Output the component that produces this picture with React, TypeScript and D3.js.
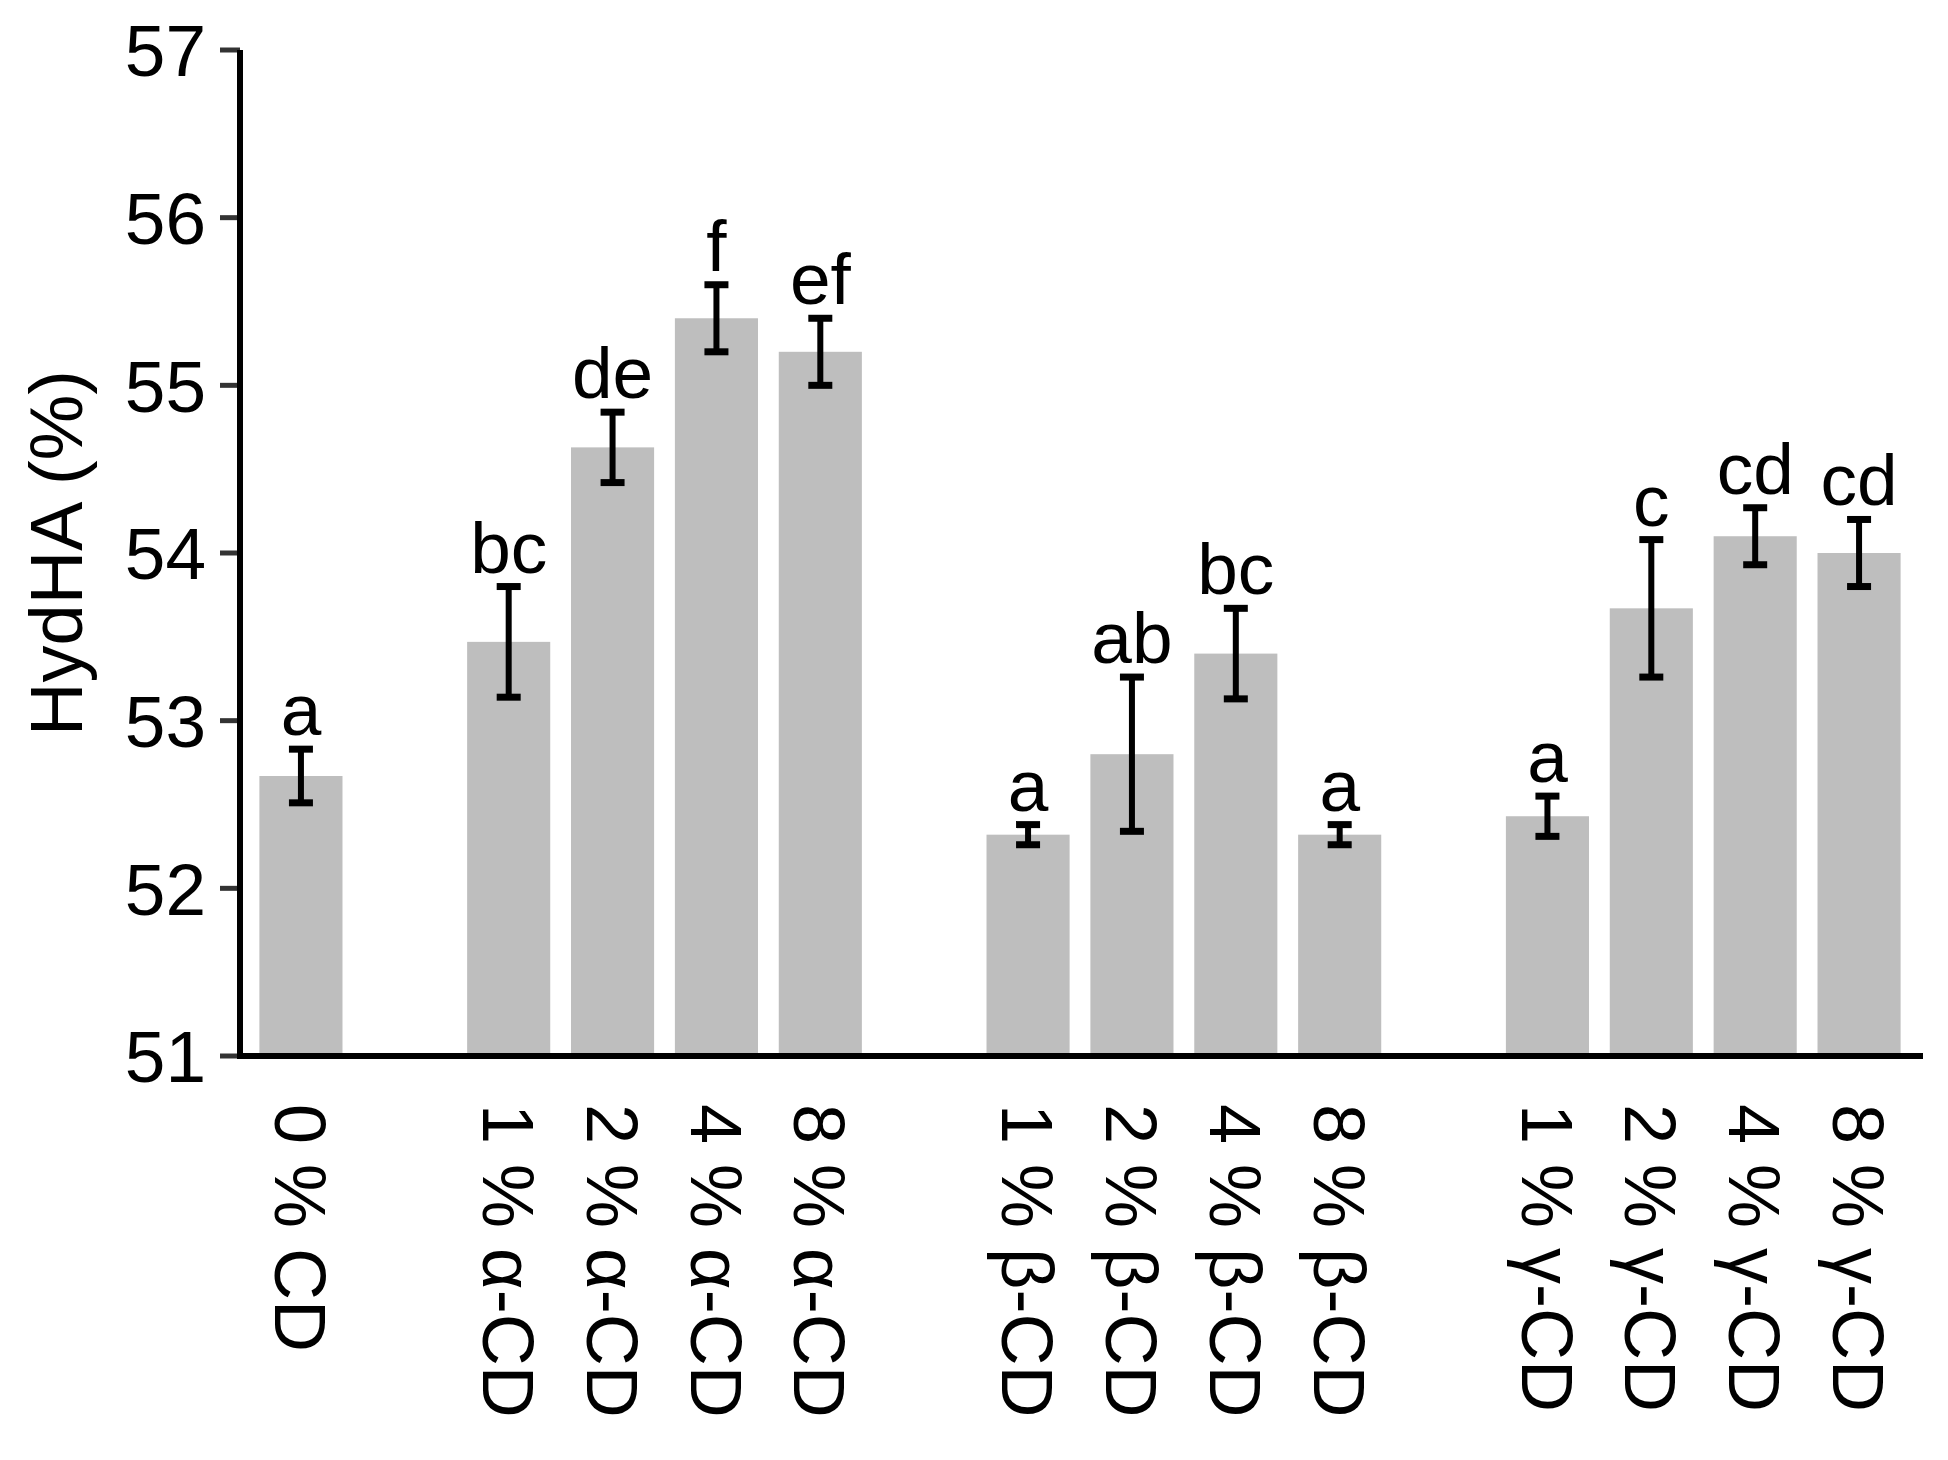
import React, { useRef, useEffect } from 'react';
import * as d3 from 'd3';

// bar order, "g*" keys are the empty gaps between groups
const slots = ['0CD', 'g1', '1a', '2a', '4a', '8a', 'g2', '1b', '2b', '4b', '8b', 'g3', '1g', '2g', '4g', '8g'];
const categories = ['0CD', '1a', '2a', '4a', '8a', '1b', '2b', '4b', '8b', '1g', '2g', '4g', '8g'];
const labels = ['0 % CD', '1 % α-CD', '2 % α-CD', '4 % α-CD', '8 % α-CD', '1 % β-CD', '2 % β-CD', '4 % β-CD', '8 % β-CD', '1 % γ-CD', '2 % γ-CD', '4 % γ-CD', '8 % γ-CD'];
const means = [52.67, 53.47, 54.63, 55.40, 55.20, 52.32, 52.80, 53.40, 52.32, 52.43, 53.67, 54.10, 54.00];
const errors = [0.16, 0.33, 0.21, 0.20, 0.20, 0.06, 0.46, 0.27, 0.06, 0.12, 0.41, 0.17, 0.20];
const letters = ['a', 'bc', 'de', 'f', 'ef', 'a', 'ab', 'bc', 'a', 'a', 'c', 'cd', 'cd'];
const yTicks = [51, 52, 53, 54, 55, 56, 57];

const W = 1948;
const H = 1460;
const FONT = '"Liberation Sans", Arial, Helvetica, sans-serif';

export default function App() {
    const svgRef = useRef(null);

    useEffect(() => {
        const svg = d3.select(svgRef.current);
        svg.selectAll("*").remove();

        const axisX = 240;
        const x = d3.scaleBand()
            .domain(slots)
            .range([249, 1911])
            .paddingInner(0.2)
            .paddingOuter(0.1);

        const y = d3.scaleLinear()
            .domain([51, 57])
            .range([1056, 50]);

        const data = categories.map((c, i) => ({
            key: c, label: labels[i], mean: means[i], err: errors[i], letter: letters[i]
        }));

        // bars
        svg.append("g").selectAll("rect")
            .data(data)
            .join("rect")
            .attr("x", d => x(d.key))
            .attr("width", x.bandwidth())
            .attr("y", d => y(d.mean))
            .attr("height", d => y(51) - y(d.mean))
            .attr("fill", "#bebebe");

        // error bars
        const eb = svg.append("g").selectAll("g")
            .data(data)
            .join("g")
            .attr("transform", d => `translate(${x(d.key) + x.bandwidth() / 2},0)`);
        eb.append("line")
            .attr("y1", d => y(d.mean + d.err))
            .attr("y2", d => y(d.mean - d.err))
            .attr("stroke", "#000")
            .attr("stroke-width", 6);
        eb.append("line")
            .attr("x1", -12).attr("x2", 12)
            .attr("y1", d => y(d.mean + d.err))
            .attr("y2", d => y(d.mean + d.err))
            .attr("stroke", "#000")
            .attr("stroke-width", 7);
        eb.append("line")
            .attr("x1", -12).attr("x2", 12)
            .attr("y1", d => y(d.mean - d.err))
            .attr("y2", d => y(d.mean - d.err))
            .attr("stroke", "#000")
            .attr("stroke-width", 7);

        // significance letters
        eb.append("text")
            .attr("y", d => y(d.mean + d.err) - 14)
            .attr("text-anchor", "middle")
            .style("font-family", FONT)
            .style("font-size", "73px")
            .attr("fill", "#000")
            .text(d => d.letter);

        // y axis
        const yAxis = svg.append("g");
        yAxis.selectAll("line.tick")
            .data(yTicks)
            .join("line")
            .attr("class", "tick")
            .attr("x1", axisX - 20).attr("x2", axisX)
            .attr("y1", d => y(d)).attr("y2", d => y(d))
            .attr("stroke", "#333")
            .attr("stroke-width", 5);
        yAxis.selectAll("text")
            .data(yTicks)
            .join("text")
            .attr("x", axisX - 34)
            .attr("y", d => y(d))
            .attr("dy", "0.36em")
            .attr("text-anchor", "end")
            .style("font-family", FONT)
            .style("font-size", "73px")
            .text(d => d);
        yAxis.append("line")
            .attr("x1", axisX).attr("x2", axisX)
            .attr("y1", y(57)).attr("y2", y(51) + 3)
            .attr("stroke", "#000")
            .attr("stroke-width", 6);

        // x axis line
        svg.append("line")
            .attr("x1", axisX - 3).attr("x2", 1923)
            .attr("y1", y(51)).attr("y2", y(51))
            .attr("stroke", "#000")
            .attr("stroke-width", 6);

        // rotated category labels
        svg.append("g").selectAll("text")
            .data(data)
            .join("text")
            .attr("transform", d => `translate(${x(d.key) + x.bandwidth() / 2},${y(51) + 48}) rotate(90)`)
            .attr("dy", "0.36em")
            .attr("text-anchor", "start")
            .style("font-family", FONT)
            .style("font-size", "72px")
            .text(d => d.label);

        // y label
        svg.append("text")
            .attr("transform", `translate(55,${(y(51) + y(57)) / 2}) rotate(-90)`)
            .attr("dy", "0.36em")
            .attr("text-anchor", "middle")
            .style("font-family", FONT)
            .style("font-size", "74px")
            .text("HydHA (%)");
    }, []);

    return (
        <svg
            ref={svgRef}
            width={W}
            height={H}
            style={{ position: 'absolute', left: 0, top: 0, background: '#fff' }}
        />
    );
}
